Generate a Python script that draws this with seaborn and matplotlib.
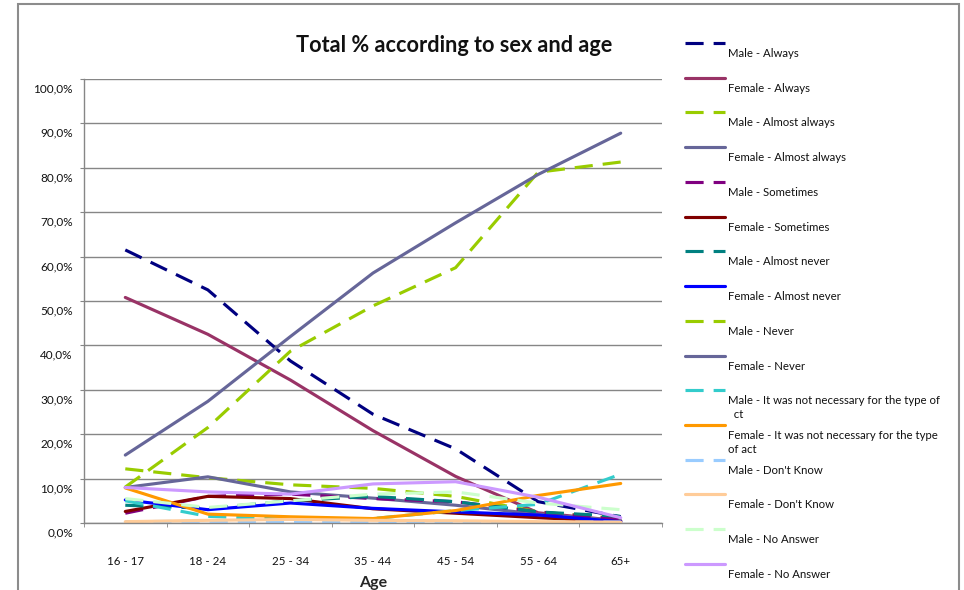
import numpy as np
import pandas as pd
import matplotlib
matplotlib.use("Agg")
import matplotlib.pyplot as plt
import matplotlib.transforms as mtransforms
from matplotlib.lines import Line2D
from matplotlib.patches import Rectangle
from matplotlib.ticker import FuncFormatter, FixedLocator
import seaborn as sns

# datos (porcentajes)
edades = ['16 - 17', '18 - 24', '25 - 34', '35 - 44', '45 - 54', '55 - 64', '65+']
y_ticks = [0, 10, 20, 30, 40, 50, 60, 70, 80, 90, 100]

male_always = [61.5, 52.5, 36.5, 24.5, 16.7, 4.8, 1.4]
female_always = [50.8, 42.5, 32.2, 20.8, 10.5, 2.3, 0.5]
male_almost_always = [12.2, 10.2, 8.6, 7.8, 6.0, 2.5, 1.0]
female_almost_always = [8.0, 10.4, 7.0, 5.6, 4.0, 2.0, 0.5]
male_sometimes = [2.2, 6.0, 6.5, 5.5, 4.8, 2.5, 0.8]
female_sometimes = [2.6, 6.0, 5.5, 3.2, 2.2, 1.2, 0.3]
male_almost_never = [4.0, 3.3, 5.0, 6.0, 4.8, 2.5, 1.5]
female_almost_never = [5.2, 3.0, 4.5, 3.3, 2.5, 1.8, 0.3]
male_never = [8.1, 21.5, 38.7, 48.9, 57.5, 79.0, 81.3]
female_never = [15.3, 27.4, 42.0, 56.3, 67.6, 78.5, 87.8]
male_no_necesario = [5.0, 1.5, 0.8, 1.0, 2.8, 4.2, 11.0]
female_no_necesario = [7.9, 2.0, 1.4, 1.0, 2.8, 6.2, 8.9]
male_no_sabe = [0.3, 0.4, 0.3, 0.3, 0.3, 0.2, 0.2]
female_no_sabe = [0.3, 0.6, 0.8, 0.6, 0.5, 0.3, 0.2]
male_no_responde = [5.5, 3.5, 5.0, 6.5, 7.0, 4.5, 3.0]
female_no_responde = [8.0, 7.0, 6.5, 8.8, 9.3, 5.8, 1.2]

nombres = ['Male - Always', 'Female - Always', 'Male - Almost always', 'Female - Almost always',
           'Male - Sometimes', 'Female - Sometimes', 'Male - Almost never', 'Female - Almost never',
           'Male - Never', 'Female - Never',
           'Male - It was not necessary for the type of\n  ct',
           'Female - It was not necessary for the type\nof act',
           "Male - Don't Know", "Female - Don't Know", 'Male - No Answer', 'Female - No Answer']
series = [male_always, female_always, male_almost_always, female_almost_always,
          male_sometimes, female_sometimes, male_almost_never, female_almost_never,
          male_never, female_never, male_no_necesario, female_no_necesario,
          male_no_sabe, female_no_sabe, male_no_responde, female_no_responde]
colores = ['#000080', '#993366', '#99CC00', '#666699', '#800080', '#800000', '#008080', '#0000FF',
           '#99CC00', '#666699', '#33CCCC', '#FF9900', '#99CCFF', '#FFCC99', '#CCFFCC', '#CC99FF']

sns.set_style("white")
plt.rcParams['font.family'] = ['Lato', 'DejaVu Sans']
plt.rcParams['text.color'] = '#111111'
plt.rcParams['xtick.color'] = '#111111'
plt.rcParams['ytick.color'] = '#111111'

W, H = 964, 590
fig = plt.figure(figsize=(W / 100, H / 100), dpi=100)
ax = fig.add_axes([84 / W, 1 - 523 / H, (662 - 84) / W, (523 - 79) / H])

dash = (0, (5.8, 3.2))
for i, (nombre, vals, col) in enumerate(zip(nombres, series, colores)):
    estilo = dash if i % 2 == 0 else '-'
    sns.lineplot(x=edades, y=vals, ax=ax, color=col, linewidth=2.25, linestyle=estilo, sort=False)

gris = '#868686'
ax.set_xlim(-0.5, len(edades) - 0.5)
ax.set_ylim(0, 100)
ax.yaxis.set_major_locator(FixedLocator(y_ticks))
ax.yaxis.set_major_formatter(FuncFormatter(lambda v, p: f"{v:.1f}%".replace('.', ',')))
ax.grid(axis='y', color=gris, linewidth=1)
ax.grid(axis='x', visible=False)
for s in ['top', 'right']:
    ax.spines[s].set_visible(False)
for s in ['left', 'bottom']:
    ax.spines[s].set_color(gris)
    ax.spines[s].set_linewidth(1)
ax.tick_params(axis='y', length=3, color=gris, labelsize=8.5, pad=5, left=True)
ax.set_xticks(range(len(edades)))
ax.set_xticklabels(edades)
ax.set_xticks(np.arange(-0.5, len(edades), 1), minor=True)
ax.tick_params(axis='x', which='major', length=0, labelsize=8.3, pad=24)
ax.tick_params(axis='x', which='minor', length=3, color=gris, bottom=True)
ax.set_ylabel('')
ax.set_xlabel('Age', fontsize=11.5, fontweight='bold', labelpad=6)

# etiquetas del eje y desplazadas hacia abajo como en Excel
off = mtransforms.ScaledTranslation(0, -9 / 100, fig.dpi_scale_trans)
for lbl in ax.get_yticklabels():
    lbl.set_transform(lbl.get_transform() + off)

fig.text(454 / W, 1 - 45 / H, 'Total % according to sex and age', ha='center', va='center',
         fontsize=15.6, fontweight='bold')

# leyenda dibujada a mano (texto debajo del simbolo)
for i, (nombre, col) in enumerate(zip(nombres, colores)):
    yh = 1 - (43 + i * 34.73) / H
    estilo = dash if i % 2 == 0 else '-'
    fig.add_artist(Line2D([685 / W, 725 / W], [yh, yh], color=col, linewidth=2.25, linestyle=estilo))
    fig.text(728 / W, yh - 5 / H, nombre, ha='left', va='top', fontsize=8.2,
             linespacing=1.35)

# borde del area del grafico
fig.add_artist(Rectangle((18 / W, -0.05), (959 - 18) / W, 1.05 - 4 / H, fill=False,
                         edgecolor='#8c8c8c', linewidth=1.5, transform=fig.transFigure))

fig.savefig('out.png', dpi=100)
